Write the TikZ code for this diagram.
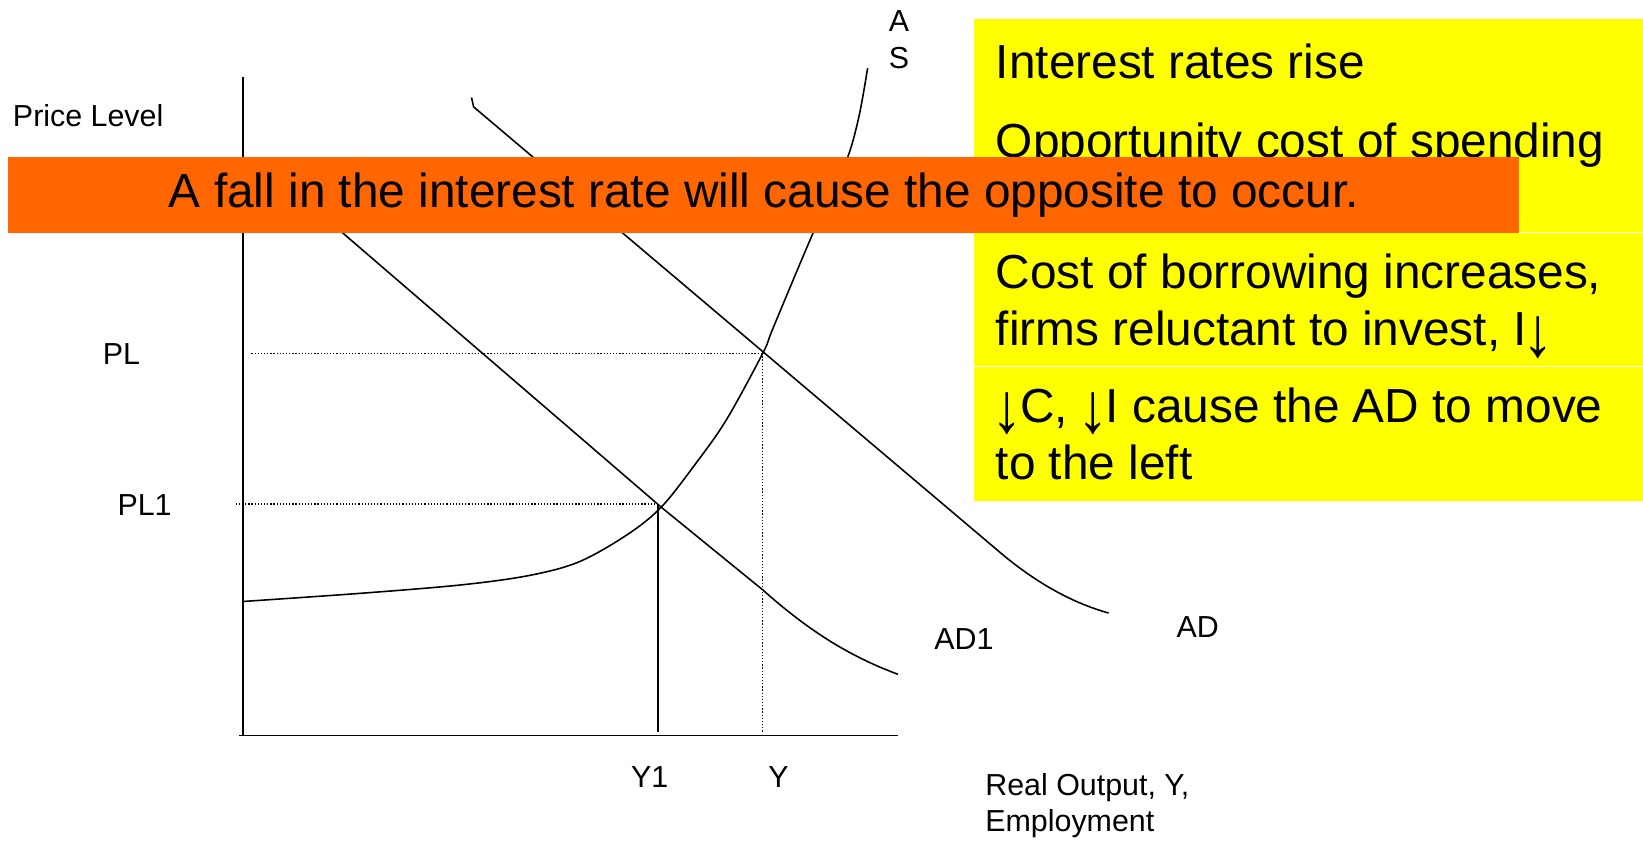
\documentclass[tikz,border=0pt]{standalone}
\usepackage{fontspec}
\usepackage{graphicx}
\setmainfont{Liberation Sans}
\usetikzlibrary{positioning}
\definecolor{bannerbg}{RGB}{255,102,0}
\definecolor{notebg}{RGB}{255,255,0}
\newcommand{\downmark}{\kern-2pt\raisebox{-5pt}{\resizebox*{15pt}{20pt}{↓}}\kern-1.3pt}
\tikzset{
  bigtext/.style={font=\fontsize{22.8pt}{27.5pt}\selectfont, inner sep=0pt, align=left},
  smalltext/.style={font=\fontsize{14.5pt}{17.5pt}\selectfont, inner sep=0pt, align=left},
  banner/.style={fill=bannerbg, minimum width=721pt, minimum height=36pt,
                 inner sep=0pt, font=\fontsize{22.8pt}{27.5pt}\selectfont},
  curve/.style={line width=0.75pt},
  axisline/.style={line width=0.85pt},
  guide/.style={line width=0.6pt, dash pattern=on 0.6pt off 0.9pt},
}

\begin{document}
\begin{tikzpicture}[x=0.5pt, y=-0.5pt]
  \useasboundingbox (0,0) rectangle (1568,805);

  % notes on the right
  \fill[notebg] (930,18) rectangle (1568,478);
  \draw[white, line width=0.5pt] (930,222) -- (1568,222) (930,350) -- (1568,350);
  \node[bigtext, anchor=base west] (rise) at (950,75) {Interest rates rise};
  \node[bigtext, anchor=base west] (opp) at (950,150) {Opportunity cost of spending};
  \node[bigtext, anchor=base west] (borrow) at (950,330)
    {Cost of borrowing increases,\\firms reluctant to invest, I\downmark};
  \node[bigtext, anchor=base west] (shift) at (950,458)
    {\downmark C, \downmark I cause the AD to move\\to the left};

  % axes
  \coordinate (ytop) at (232,73);
  \coordinate (orig) at (232,702);
  \coordinate (xend) at (857,702);
  \draw[axisline] (ytop) -- (orig);
  \draw[axisline] (228,702) -- (xend);

  % equilibria
  \coordinate (E) at (728,337);
  \coordinate (E1) at (628,481);
  \draw[guide] (240,337) -- (E);
  \draw[guide] (225,481) -- (E1);
  \draw[guide] (E) -- (728,699);
  \draw[line width=0.75pt] (E1) -- (628,699);

  % curves
  \draw[curve] plot[smooth, tension=0.55] coordinates {(232,574) (347,566) (442,558)
    (506,549) (553,536) (599,510) (631,484) (662,445) (693,401) (728,337) (737,315)
    (765,248) (790,190) (809,150) (820,110) (828,65)};
  \draw[curve] (450,93) -- (452,102) -- (953,526)
    .. controls (987,555) and (1022,575) .. (1058,585);
  \draw[curve] (300,199) -- (631,484) -- (728,563)
    .. controls (775,605) and (815,628) .. (857,643.5);

  % labels
  \node[smalltext, anchor=west] (plab) at (12,110) {Price Level};
  \node[smalltext] (pl) at (116,338) {PL};
  \node[smalltext] (pl1) at (138,482) {PL1};
  \node[smalltext] (y1) at (620,742) {Y1};
  \node[smalltext] (y) at (743,742) {Y};
  \node[smalltext] (ad1) at (920,610) {AD1};
  \node[smalltext] (ad) at (1143,598) {AD};
  \node[smalltext, align=center] (as) at (858,38) {A\\S};
  \node[smalltext, anchor=west] (xlab) at (940,769) {Real Output, Y,\\Employment};

  % banner on top
  \node[banner] (fall) at (729,186) {A fall in the interest rate will cause the opposite to occur.};
\end{tikzpicture}
\end{document}
